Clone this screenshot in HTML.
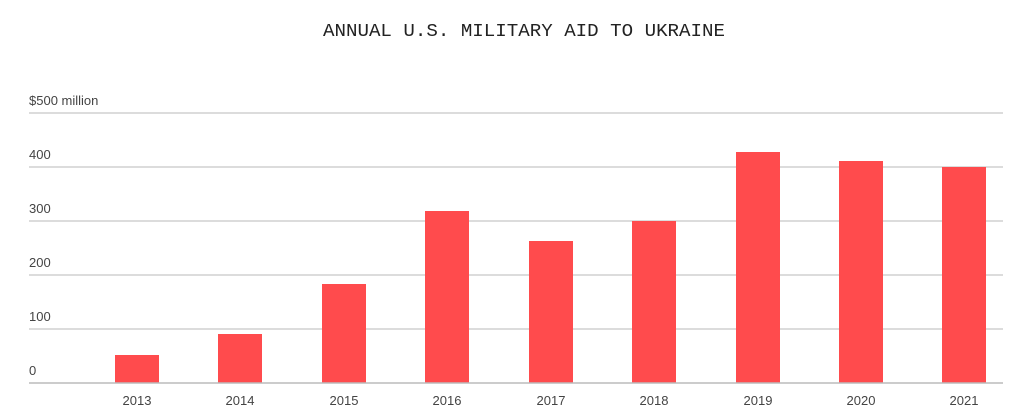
<!DOCTYPE html>
<html><head><meta charset="utf-8"><style>
html,body{margin:0;padding:0;background:#fff;}
svg{display:block}
</style></head><body>
<svg width="1023" height="420" xmlns="http://www.w3.org/2000/svg">
<rect width="1023" height="420" fill="#fff"/>
<text x="524" y="36" text-anchor="middle" font-family="Liberation Mono, monospace" font-size="18.5" fill="#222" textLength="402" lengthAdjust="spacingAndGlyphs">ANNUAL U.S. MILITARY AID TO UKRAINE</text>
<g stroke="#d0d0d0" stroke-width="1.5">
<line x1="29" x2="1003" y1="113" y2="113"/>
<line x1="29" x2="1003" y1="167" y2="167"/>
<line x1="29" x2="1003" y1="221" y2="221"/>
<line x1="29" x2="1003" y1="275" y2="275"/>
<line x1="29" x2="1003" y1="329" y2="329"/>
</g>
<g font-family="Liberation Sans, sans-serif" font-size="13" fill="#444">
<text x="29" y="105">$500 million</text>
<text x="29" y="159">400</text>
<text x="29" y="213">300</text>
<text x="29" y="267">200</text>
<text x="29" y="321">100</text>
<text x="29" y="375">0</text>
</g>
<g fill="#ff4b4d">
<rect x="115" y="355" width="44" height="28"/>
<rect x="218" y="334" width="44" height="49"/>
<rect x="322" y="284" width="44" height="99"/>
<rect x="425" y="211" width="44" height="172"/>
<rect x="529" y="241" width="44" height="142"/>
<rect x="632" y="221" width="44" height="162"/>
<rect x="736" y="152" width="44" height="231"/>
<rect x="839" y="161" width="44" height="222"/>
<rect x="942" y="167" width="44" height="216"/>
</g>
<line x1="29" x2="1003" y1="383" y2="383" stroke="#bbb" stroke-width="1.5"/>
<g font-family="Liberation Sans, sans-serif" font-size="13" fill="#444" text-anchor="middle">
<text x="137" y="405">2013</text>
<text x="240" y="405">2014</text>
<text x="344" y="405">2015</text>
<text x="447" y="405">2016</text>
<text x="551" y="405">2017</text>
<text x="654" y="405">2018</text>
<text x="758" y="405">2019</text>
<text x="861" y="405">2020</text>
<text x="964" y="405">2021</text>
</g>
</svg>
</body></html>
